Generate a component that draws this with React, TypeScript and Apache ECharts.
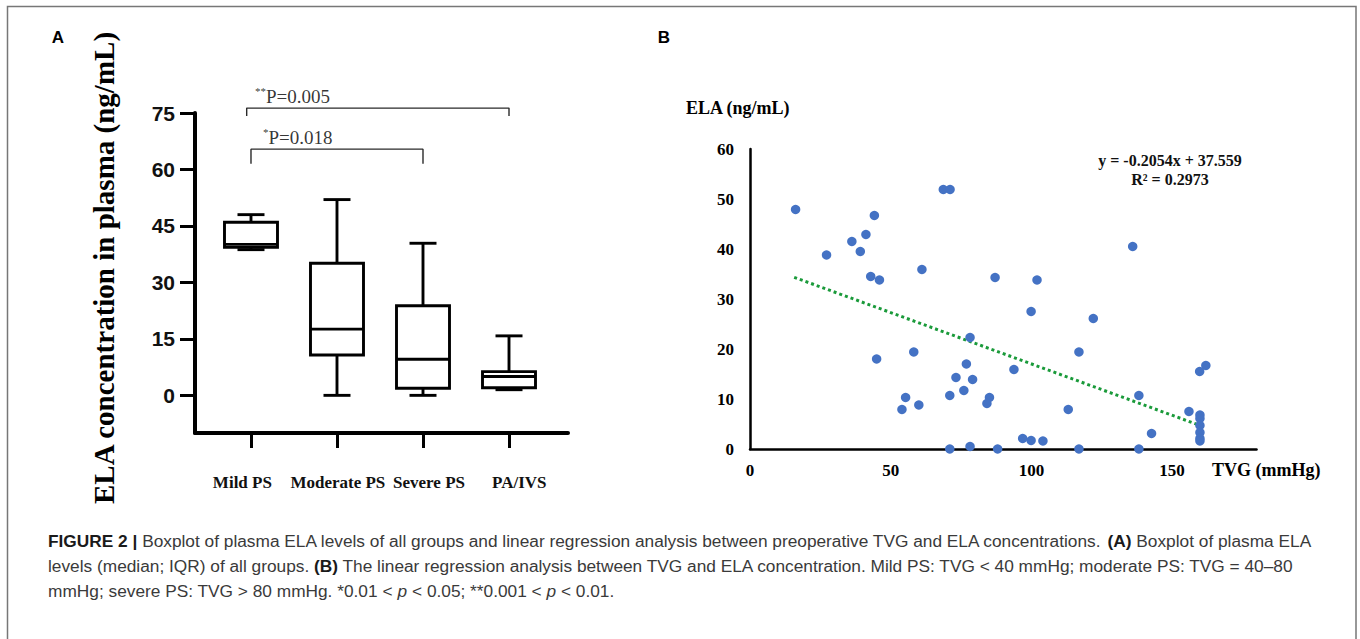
import React, { useEffect, useRef } from 'react';
import * as echarts from 'echarts';

// ---------- Panel A: boxplot ----------
const groups = ['Mild PS', 'Moderate PS', 'Severe PS', 'PA/IVS'];
const boxMin = [38.7, 0, 0, 1.5];
const boxQ1 = [39.3, 10.7, 1.9, 2.0];
const boxMedian = [40.1, 17.6, 9.6, 5.0];
const boxQ3 = [46.0, 35.1, 23.8, 6.3];
const boxMax = [48.0, 52.0, 40.4, 15.8];
const ticksA = [0, 15, 30, 45, 60, 75];
const groupIdx = [0, 1, 2, 3];

const bracketFrom = [0, 0];
const bracketTo = [3, 2];
const bracketTop = [76.3, 65.4];
const bracketFoot = [74.2, 61.5];
const bracketStars = ['**', '*'];
const bracketP = ['P=0.005', 'P=0.018'];
const bracketTextY = [79.4, 68.6];

// ---------- Panel B: scatter ----------
const tvg = [
  16.2, 68.7, 71.1, 44.2, 41.2, 36.2, 27.2, 39.2, 61.1, 42.9, 46.0, 87.1, 102.0,
  99.9, 78.2, 45.0, 58.2, 76.9, 93.8, 73.2, 79.1, 76.0, 71.0, 55.3, 85.1, 84.2,
  60.0, 54.0, 96.9, 99.9, 71.0, 78.2, 88.0, 136.0, 122.0, 116.9, 159.8, 162.0,
  138.2, 113.1, 156.0, 159.9, 159.9, 159.9, 159.9, 159.9, 159.9, 142.7, 104.1,
  116.9, 138.2,
];
const ela = [
  47.9, 51.9, 51.9, 46.7, 42.9, 41.5, 38.8, 39.5, 35.9, 34.5, 33.8, 34.3, 33.8,
  27.5, 22.3, 18.0, 19.4, 17.0, 15.9, 14.3, 13.9, 11.7, 10.7, 10.3, 10.3, 9.1,
  8.8, 7.9, 2.1, 1.7, 0, 0.5, 0, 40.5, 26.1, 19.4, 15.5, 16.7, 10.7, 7.9, 7.5,
  6.8, 6.1, 4.7, 3.3, 2.1, 1.6, 3.1, 1.6, 0, 0,
];
const ticksBX = [0, 50, 100, 150];
const slope = -0.2054;
const intercept = 37.559;
const rSquared = '0.2973';
const trendX = [15.7, 161.7];

const SERIF = '"Liberation Serif", "Times New Roman", serif';
const SANS = '"Liberation Sans", Arial, sans-serif';

// label anchor positions of the group names (the source labels are not exactly centred on ticks)
const groupLabelAnchor = [-0.1, 1.01, 2.07, 3.12];

export default function App() {
  const ref = useRef<HTMLDivElement>(null);

  useEffect(() => {
    if (!ref.current) return;
    const chart = echarts.init(ref.current, undefined, { renderer: 'svg' });

    const boxData = groupIdx.map((i) => [i, boxMin[i], boxQ1[i], boxMedian[i], boxQ3[i], boxMax[i]]);
    const bracketSeries = bracketFrom.map((f, k) => ({
      type: 'line',
      xAxisIndex: 0,
      yAxisIndex: 0,
      clip: false,
      symbol: 'none',
      silent: true,
      lineStyle: { color: '#2a2a2a', width: 1.4 },
      data: [
        [f - 0.05 * (1 - k), bracketFoot[k]],
        [f - 0.05 * (1 - k), bracketTop[k]],
        [bracketTo[k], bracketTop[k]],
        [bracketTo[k], bracketFoot[k]],
      ],
    }));
    const bracketLabelSeries = {
      type: 'scatter',
      xAxisIndex: 0,
      yAxisIndex: 0,
      clip: false,
      symbolSize: 0,
      silent: true,
      data: bracketFrom.map((f, k) => ({
        value: [f, bracketTextY[k]],
        label: {
          show: true,
          position: [k === 0 ? 4 : 12, 0],
          align: 'left',
          verticalAlign: 'middle',
          formatter: `{s|${bracketStars[k]}}{n|${bracketP[k]}}`,
          rich: {
            s: { fontFamily: SERIF, fontSize: 11, color: '#000', verticalAlign: 'top', lineHeight: 22 },
            n: { fontFamily: SERIF, fontSize: 19, color: '#000', lineHeight: 22 },
          },
        },
      })),
    };

    const scatterData = tvg.map((x, i) => [x, ela[i]]);
    const trendData = trendX.map((x) => [x, slope * x + intercept]);

    const caption =
      '{b|FIGURE 2 |} Boxplot of plasma ELA levels of all groups and linear regression analysis between preoperative TVG and ELA concentrations. {b|(A)} Boxplot of plasma ELA\n' +
      'levels (median; IQR) of all groups. {b|(B)} The linear regression analysis between TVG and ELA concentration. Mild PS: TVG < 40 mmHg; moderate PS: TVG = 40–80\n' +
      'mmHg; severe PS: TVG > 80 mmHg. *0.01 < {i|p} < 0.05; **0.001 < {i|p} < 0.01.';
    const capSize = 17.3;

    chart.setOption({
      animation: false,
      backgroundColor: '#ffffff',
      grid: [
        { left: 195, top: 113, width: 373, height: 320 },
        { left: 750, top: 149, width: 506.5, height: 300 },
      ],
      xAxis: [
        {
          type: 'value',
          gridIndex: 0,
          min: -0.651,
          max: 3.686,
          axisLine: { show: true, onZero: false, lineStyle: { color: '#000', width: 4 } },
          axisTick: { show: true, customValues: groupIdx, length: 15, lineStyle: { color: '#000', width: 3 } },
          axisLabel: {
            customValues: groupLabelAnchor,
            formatter: (v: number) => groups[Math.round(v)] ?? '',
            margin: 41,
            hideOverlap: false,
            fontFamily: SERIF,
            fontWeight: 'bold',
            fontSize: 17,
            color: '#111',
          },
          splitLine: { show: false },
        },
        {
          type: 'value',
          gridIndex: 1,
          min: 0,
          max: 180,
          axisLine: { show: true, onZero: false, lineStyle: { color: '#000', width: 2.5 } },
          axisTick: { show: false },
          axisLabel: {
            customValues: ticksBX,
            margin: 13,
            fontFamily: SERIF,
            fontWeight: 'bold',
            fontSize: 17,
            color: '#000',
          },
          splitLine: { show: false },
        },
      ],
      yAxis: [
        {
          type: 'value',
          gridIndex: 0,
          min: -10,
          max: 75,
          axisLine: { show: true, onZero: false, lineStyle: { color: '#000', width: 4 } },
          axisTick: { show: true, customValues: ticksA, length: 15, lineStyle: { color: '#000', width: 3 } },
          axisLabel: {
            customValues: ticksA,
            margin: 20,
            fontFamily: SANS,
            fontWeight: 'bold',
            fontSize: 21,
            color: '#111',
          },
          splitLine: { show: false },
        },
        {
          type: 'value',
          gridIndex: 1,
          min: 0,
          max: 60,
          interval: 10,
          axisLine: { show: true, onZero: false, lineStyle: { color: '#000', width: 2.5 } },
          axisTick: { show: false },
          axisLabel: {
            margin: 16,
            fontFamily: SERIF,
            fontWeight: 'bold',
            fontSize: 17,
            color: '#000',
          },
          splitLine: { show: false },
        },
      ],
      series: [
        {
          type: 'custom',
          xAxisIndex: 0,
          yAxisIndex: 0,
          silent: true,
          data: boxData,
          renderItem: (params: any, api: any) => {
            const x = api.value(0);
            const cx = api.coord([x, 0])[0];
            const yMin = api.coord([x, api.value(1)])[1];
            const yQ1 = api.coord([x, api.value(2)])[1];
            const yMed = api.coord([x, api.value(3)])[1];
            const yQ3 = api.coord([x, api.value(4)])[1];
            const yMax = api.coord([x, api.value(5)])[1];
            const bw = 53;
            const cw = 27;
            const st = { stroke: '#000', lineWidth: 2.9, fill: 'none' };
            return {
              type: 'group',
              children: [
                { type: 'line', shape: { x1: cx, y1: yQ3, x2: cx, y2: yMax }, style: st },
                { type: 'line', shape: { x1: cx - cw / 2, y1: yMax, x2: cx + cw / 2, y2: yMax }, style: st },
                { type: 'line', shape: { x1: cx, y1: yQ1, x2: cx, y2: yMin }, style: st },
                { type: 'line', shape: { x1: cx - cw / 2, y1: yMin, x2: cx + cw / 2, y2: yMin }, style: st },
                {
                  type: 'rect',
                  shape: { x: cx - bw / 2, y: yQ3, width: bw, height: yQ1 - yQ3 },
                  style: { stroke: '#000', lineWidth: 2.9, fill: '#fff' },
                },
                { type: 'line', shape: { x1: cx - bw / 2, y1: yMed, x2: cx + bw / 2, y2: yMed }, style: st },
              ],
            };
          },
        },
        ...bracketSeries,
        bracketLabelSeries,
        {
          type: 'line',
          xAxisIndex: 1,
          yAxisIndex: 1,
          symbol: 'none',
          silent: true,
          data: trendData,
          lineStyle: { color: '#1a9a3a', width: 3, type: [3, 3] },
          z: 1,
        },
        {
          type: 'scatter',
          xAxisIndex: 1,
          yAxisIndex: 1,
          clip: false,
          symbol: 'circle',
          symbolSize: 9.5,
          silent: true,
          itemStyle: { color: '#4472c4', opacity: 1 },
          data: scatterData,
          z: 3,
        },
      ],
      graphic: [
        {
          type: 'rect',
          silent: true,
          shape: { x: 7.5, y: 6.5, width: 1348.5, height: 700 },
          style: { fill: 'none', stroke: '#777', lineWidth: 1.5 },
        },
        {
          type: 'text',
          x: 58,
          y: 37,
          style: { text: 'A', fontFamily: SANS, fontWeight: 'bold', fontSize: 17, fill: '#000', align: 'center', verticalAlign: 'middle' },
        },
        {
          type: 'text',
          x: 664,
          y: 37,
          style: { text: 'B', fontFamily: SANS, fontWeight: 'bold', fontSize: 17, fill: '#000', align: 'center', verticalAlign: 'middle' },
        },
        {
          type: 'text',
          x: 104,
          y: 268,
          rotation: Math.PI / 2,
          style: {
            text: 'ELA concentration in plasma (ng/mL)',
            fontFamily: SERIF,
            fontWeight: 'bold',
            fontSize: 29,
            fill: '#000',
            align: 'center',
            verticalAlign: 'middle',
          },
        },
        {
          type: 'text',
          x: 686,
          y: 108,
          style: { text: 'ELA (ng/mL)', fontFamily: SERIF, fontWeight: 'bold', fontSize: 18, fill: '#000', align: 'left', verticalAlign: 'middle' },
        },
        {
          type: 'text',
          x: 1212,
          y: 470,
          style: { text: 'TVG (mmHg)', fontFamily: SERIF, fontWeight: 'bold', fontSize: 18, fill: '#000', align: 'left', verticalAlign: 'middle' },
        },
        {
          type: 'text',
          x: 1170,
          y: 169.5,
          style: {
            text: `y = ${slope}x + ${intercept}\nR² = ${rSquared}`,
            fontFamily: SERIF,
            fontWeight: 'bold',
            fontSize: 16,
            lineHeight: 19,
            fill: '#111',
            align: 'center',
            verticalAlign: 'middle',
          },
        },
        {
          type: 'text',
          x: 48,
          y: 528.5,
          style: {
            text: caption,
            fontFamily: SANS,
            fontSize: capSize,
            lineHeight: 25,
            fill: '#3a3a3a',
            align: 'left',
            verticalAlign: 'top',
            rich: {
              b: { fontFamily: SANS, fontWeight: 'bold', fontSize: capSize, lineHeight: 25, fill: '#1a1a1a' },
              i: { fontFamily: SANS, fontStyle: 'italic', fontSize: capSize, lineHeight: 25, fill: '#3a3a3a' },
            },
          },
        },
      ],
    });

    return () => chart.dispose();
  }, []);

  return (
    <div
      ref={ref}
      style={{ position: 'absolute', left: 0, top: 0, width: 1360, height: 639, background: '#fff' }}
    />
  );
}
